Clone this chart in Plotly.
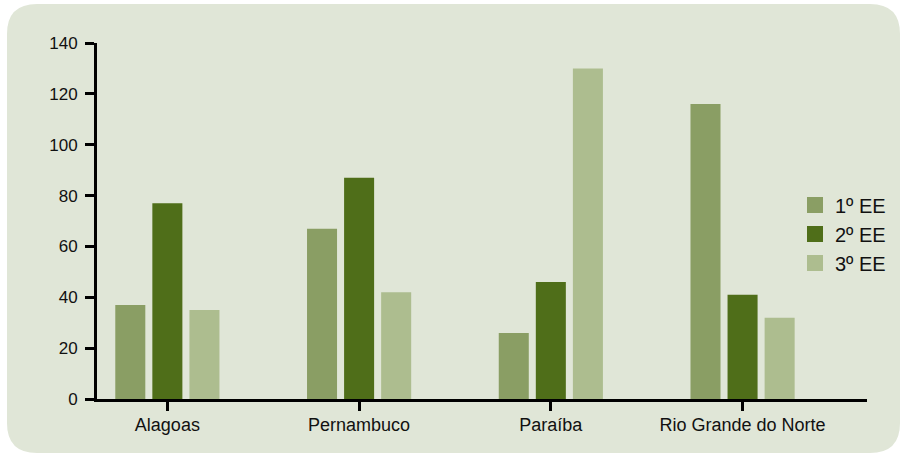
import plotly.graph_objects as go

# Estados e contagens por série (EE)
estados = ["Alagoas", "Pernambuco", "Paraíba", "Rio Grande do Norte"]
ee1 = [37, 67, 26, 116]
ee2 = [77, 87, 46, 41]
ee3 = [35, 42, 130, 32]
series_names = ["1º EE", "2º EE", "3º EE"]
y_ticks = [0, 20, 40, 60, 80, 100, 120, 140]

colors = ["#8a9e64", "#4f6e19", "#adbd8f"]
panel_color = "#e0e6d7"

W, H = 901, 455
ML, MR, MT, MB = 97, 34, 43, 56
plot_w = W - ML - MR
plot_h = H - MT - MB

fig = go.Figure()
for name, vals, col in zip(series_names, [ee1, ee2, ee3], colors):
    fig.add_trace(go.Bar(x=estados, y=vals, name=name, marker_color=col,
                         marker_line_width=0, hoverinfo="skip",
                         legendgroup=name, showlegend=False))
# legend entries with larger square swatches, grouped with the bars
for name, col in zip(series_names, colors):
    fig.add_trace(go.Scatter(x=[None], y=[None], mode="markers", name=name,
                             legendgroup=name,
                             marker=dict(symbol="square", size=16, color=col,
                                         line_width=0)))


# rounded panel behind the chart, expressed in paper coordinates
def px_x(p):
    return (p - ML) / plot_w


def px_y(p):
    return (H - MB - p) / plot_h


x0, x1, y0, y1, r = 7, 900, 4, 453, 30
path = (
    f"M {px_x(x0 + r)},{px_y(y0)} "
    f"L {px_x(x1 - r)},{px_y(y0)} "
    f"Q {px_x(x1)},{px_y(y0)} {px_x(x1)},{px_y(y0 + r)} "
    f"L {px_x(x1)},{px_y(y1 - r)} "
    f"Q {px_x(x1)},{px_y(y1)} {px_x(x1 - r)},{px_y(y1)} "
    f"L {px_x(x0 + r)},{px_y(y1)} "
    f"Q {px_x(x0)},{px_y(y1)} {px_x(x0)},{px_y(y1 - r)} "
    f"L {px_x(x0)},{px_y(y0 + r)} "
    f"Q {px_x(x0)},{px_y(y0)} {px_x(x0 + r)},{px_y(y0)} Z"
)
fig.add_shape(type="path", path=path, xref="paper", yref="paper",
              fillcolor=panel_color, line_width=0, layer="below")

font_family = "Arial, 'Liberation Sans', sans-serif"

fig.update_layout(
    width=W, height=H,
    margin=dict(l=ML, r=MR, t=MT, b=MB, pad=0, autoexpand=False),
    paper_bgcolor="white",
    plot_bgcolor="rgba(0,0,0,0)",
    barmode="group",
    bargap=0.42,
    bargroupgap=0.19,
    font=dict(family=font_family, color="#111111", size=17),
    showlegend=True,
    legend=dict(
        x=px_x(795), xanchor="left",
        y=px_y(234), yanchor="middle",
        bgcolor="rgba(0,0,0,0)",
        font=dict(size=20, family=font_family, color="#111111"),
        tracegroupgap=0,
        itemclick=False, itemdoubleclick=False,
    ),
    xaxis=dict(
        range=[-0.367, 3.649],
        showline=True, linecolor="black", linewidth=3,
        ticks="outside", ticklen=9, tickwidth=3, tickcolor="black",
        showgrid=False, zeroline=False,
        tickfont=dict(size=18),
        ticklabelstandoff=-2,
        fixedrange=True,
    ),
    yaxis=dict(
        range=[0, 140],
        tickvals=y_ticks,
        showline=True, linecolor="black", linewidth=3,
        ticks="outside", ticklen=9, tickwidth=3, tickcolor="black",
        showgrid=False, zeroline=False,
        tickfont=dict(size=17),
        ticklabelstandoff=4,
        fixedrange=True,
    ),
)

fig.write_html("out.html", config={"displayModeBar": False})
